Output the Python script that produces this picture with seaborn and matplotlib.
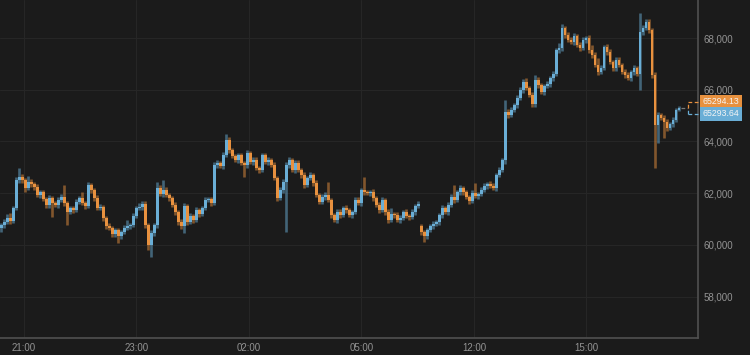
import numpy as np
import pandas as pd
import matplotlib
matplotlib.use('Agg')
import matplotlib.pyplot as plt
from matplotlib.ticker import FuncFormatter
import seaborn as sns

# 收盘价（从左到右逐根读取）
closes = [
    60770, 60880, 61040, 60920, 61420, 62510, 62620, 62510, 62200, 62430,
    62350, 62240, 61930, 62040, 61770, 61540, 61810, 61620, 61540, 61740,
    61850, 61620, 61270, 61420, 61350, 61660, 61810, 61620, 61500, 62310,
    62120, 61810, 61420, 61460, 61040, 60730, 60650, 60420, 60570, 60340,
    60500, 60650, 60730, 60770, 61120, 61420, 61460, 61580, 60770, 59990,
    60460, 60770, 62200, 61970, 62120, 61930, 61810, 61540, 61270, 60880,
    60730, 61500, 60880, 61120, 60960, 61350, 61190, 61420, 61740, 61770,
    61620, 63090, 63170, 63050, 63470, 64060, 63670, 63440, 63280,
    63470, 63170, 63090, 63550, 63200, 63280, 62970, 62900, 63470, 63200,
    63280, 63090, 62590, 61810, 62120, 62430, 63090, 63280, 62900, 63170,
    62900, 62700, 62310, 62590, 62700, 62390, 61930, 61660, 61850, 61930,
    61740, 61150, 60960, 61270, 61150, 61420, 61350, 61150,
    61270, 61740, 61620, 62120, 62040, 62010, 62040, 61810, 61540, 61350,
    61740, 61270, 60960, 61190, 61150, 60960, 61040, 61270, 61120, 61080,
    61270, 61500, 61580, 60500, 60340, 60570, 60730, 60810, 60880, 61150,
    61420, 61270, 61540, 61850, 61740, 62040, 62200, 62040,
    61850, 61700, 62010, 61890, 61970, 62120, 62280, 62350, 62280, 62200,
    62700, 62900, 63280, 65140, 65020, 65220, 65410, 65680, 65990, 66300,
    66070, 65800, 65450, 66380, 66180, 65910, 66140, 66220, 66450, 66610,
    67530, 67610, 68390, 68120, 67920, 67850, 68080, 67730,
    67610, 67920, 68000, 67530, 67340, 66960, 66690, 66840, 67650, 67460,
    67070, 66840, 67150, 66960, 66690, 66570, 66450, 66690, 66840, 66610,
    68230, 68390, 68620, 68310, 66570, 64640, 65020, 64910, 64750, 64520,
    64670, 64830, 65220, 65294,
]
first_open = 60650
gap_idx = 140      # 05:00 与 12:00 之间的跳空
gap_open = 60730

# 影线长度（实体上方 / 下方）
wick_up = [
    90, 120, 150, 200, 80, 100, 370, 110, 90, 240, 100, 80, 120, 90, 100, 70, 120, 90, 80, 110,
    130, 460, 80, 100, 70, 120, 90, 240, 80, 110, 90, 70, 100, 110, 80, 90, 120, 70, 100, 90,
    90, 100, 220, 80, 110, 90, 150, 120, 100, 80, 110, 90, 230, 100, 390, 110, 90, 80, 100, 90,
    110, 120, 90, 100, 80, 110, 90, 100, 120, 90, 80, 110, 100, 90, 120, 230, 100, 80, 90,
    100, 90, 80, 110, 90, 100, 120, 80, 100, 90, 110, 80, 100, 90, 110, 100, 120, 120, 90, 100,
    110, 80, 100, 90, 120, 80, 100, 90, 110, 100, 500, 90, 80, 110, 100, 90, 120, 80,
    90, 100, 110, 80, 500, 100, 90, 120, 80, 100, 110, 90, 100, 230, 80, 110, 100, 90, 120, 80,
    100, 90, 110, 60, 80, 100, 90, 110, 80, 100, 120, 90, 100, 110, 460, 90, 100, 80,
    100, 90, 110, 380, 80, 100, 120, 90, 100, 110, 80, 100, 90, 460, 100, 120, 90, 110, 100, 120,
    150, 90, 100, 190, 110, 90, 100, 120, 80, 110, 100, 200, 150, 90, 110, 100, 120, 90,
    100, 120, 90, 110, 200, 100, 250, 120, 90, 100, 110, 80, 100, 120, 90, 100, 110, 90, 100, 80,
    740, 120, 100, 110, 90, 100, 120, 90, 100, 110, 90, 100, 80, 60,
]
wick_dn = [
    150, 100, 80, 120, 90, 80, 100, 120, 150, 90, 100, 110, 80, 100, 90, 120, 100, 540, 90, 110,
    80, 100, 500, 90, 110, 80, 100, 90, 120, 80, 100, 110, 90, 80, 120, 100, 90, 130, 110, 270,
    130, 100, 90, 110, 80, 100, 90, 110, 120, 190, 460, 120, 100, 90, 110, 80, 100, 90, 110, 100,
    120, 270, 100, 90, 110, 80, 100, 90, 80, 100, 110, 90, 100, 80, 110, 90, 120, 100, 90,
    100, 90, 470, 110, 80, 100, 90, 120, 100, 80, 110, 90, 100, 120, 90, 100, 1930, 100, 90, 110,
    80, 100, 120, 90, 100, 110, 80, 100, 90, 120, 100, 110, 90, 100, 120, 80, 100, 90,
    100, 90, 80, 110, 100, 90, 120, 100, 80, 110, 90, 100, 120, 90, 100, 80, 110, 90, 100, 120,
    80, 100, 90, 110, 230, 100, 90, 120, 80, 100, 110, 90, 100, 80, 120, 90, 100, 110,
    90, 110, 100, 80, 120, 100, 90, 110, 100, 80, 120, 90, 100, 150, 110, 90, 100, 120, 80, 110,
    100, 90, 120, 100, 110, 90, 100, 80, 120, 100, 90, 110, 100, 120, 90, 100, 110, 90,
    110, 90, 100, 120, 100, 90, 110, 100, 80, 120, 90, 100, 110, 90, 100, 120, 90, 100, 110, 90,
    620, 100, 90, 110, 100, 1670, 700, 100, 620, 120, 90, 100, 80, 60,
]

time_labels = ['21:00', '23:00', '02:00', '05:00', '12:00', '15:00']
time_pos = [7.5, 45, 82.5, 120, 157.5, 195]   # 对应的K线序号
y_ticks = [58000, 60000, 62000, 64000, 66000, 68000]
ask_price = 65294.13
bid_price = 65293.64

assert len(closes) == len(wick_up) == len(wick_dn)

# 整理成 OHLC
df = pd.DataFrame({'close': closes, 'wick_up': wick_up, 'wick_dn': wick_dn})
df['open'] = df['close'].shift(1).fillna(first_open)
df.loc[gap_idx, 'open'] = gap_open
df['top'] = df[['open', 'close']].max(axis=1)
df['bot'] = df[['open', 'close']].min(axis=1)
df['high'] = df['top'] + df['wick_up']
df['low'] = df['bot'] - df['wick_dn']
df['up'] = df['close'] >= df['open']
x = np.arange(len(df))

BG = '#1b1b1b'
GRID = '#262626'
TXT = '#939393'
up_col, dn_col = sns.color_palette(['#6aaed6', '#e8913f'])

sns.set_theme(style='dark', rc={
    'axes.facecolor': BG,
    'figure.facecolor': BG,
    'grid.color': GRID,
    'axes.grid': True,
})
plt.rcParams['font.family'] = ['Liberation Sans', 'DejaVu Sans']

fig = plt.figure(figsize=(7.5, 3.55), dpi=100)
ax = fig.add_axes([0, 17 / 355, 698 / 750, 338 / 355])

colors = [up_col if u else dn_col for u in df['up']]

# 影线（较暗）
ax.vlines(x, df['low'], df['high'], colors=colors, lw=1.9, alpha=0.5, zorder=2)
# 实体
heights = np.maximum(df['top'] - df['bot'], 45)
ax.bar(x, heights, bottom=df['bot'], width=0.72, color=colors, lw=0, zorder=3)

ax.set_xlim(-0.5, 232.2)
ax.set_ylim(56396, 69470)

ax.set_xticks(time_pos)
ax.set_xticklabels(time_labels)
ax.set_yticks(y_ticks)
ax.yaxis.set_major_formatter(FuncFormatter(lambda v, p: f'{v:,.0f}'))
ax.yaxis.tick_right()
ax.tick_params(axis='both', length=0, labelsize=7, labelcolor=TXT)
ax.tick_params(axis='y', pad=4)
ax.tick_params(axis='x', pad=3.5)
ax.grid(True, color=GRID, lw=0.8)

for s in ['left', 'top']:
    ax.spines[s].set_visible(False)
for s in ['right', 'bottom']:
    ax.spines[s].set_visible(True)
    ax.spines[s].set_color('#505050')
    ax.spines[s].set_linewidth(1.2)

# 最新价标签与虚线（标签上下错开约 6 像素）
last = closes[-1]
per_px = (ax.get_ylim()[1] - ax.get_ylim()[0]) / ax.bbox.height
ask_y = last + 6 * per_px
bid_y = last - 6 * per_px
x_end = ax.get_xlim()[1]
x_split = 228.7
dash = (0, (3, 2))
ax.plot([len(df) - 0.5, x_split], [last, last], color='#7a7a7a', lw=0.9, ls=dash, zorder=4)
ax.plot([x_split, x_end], [ask_y, ask_y], color=dn_col, lw=0.9, ls=dash, zorder=4, clip_on=False)
ax.plot([x_split, x_end], [bid_y, bid_y], color=up_col, lw=0.9, ls=dash, zorder=4, clip_on=False)
ax.plot([x_split, x_split], [last, ask_y], color=dn_col, lw=0.9, ls=dash, zorder=4)
ax.plot([x_split, x_split], [bid_y, last], color=up_col, lw=0.9, ls=dash, zorder=4)

box = dict(boxstyle='square,pad=0.3', ec='none')
ax.annotate(f'{ask_price:.2f}', xy=(1, ask_y), xycoords=('axes fraction', 'data'),
            xytext=(3.5, 0), textcoords='offset points', ha='left', va='center',
            fontsize=6.3, color='#f4f4f4', annotation_clip=False,
            bbox=dict(box, fc=dn_col))
ax.annotate(f'{bid_price:.2f}', xy=(1, bid_y), xycoords=('axes fraction', 'data'),
            xytext=(3.5, 0), textcoords='offset points', ha='left', va='center',
            fontsize=6.3, color='#f4f4f4', annotation_clip=False,
            bbox=dict(box, fc=up_col))

plt.savefig('out.png', dpi=100, facecolor=BG)
plt.close()
